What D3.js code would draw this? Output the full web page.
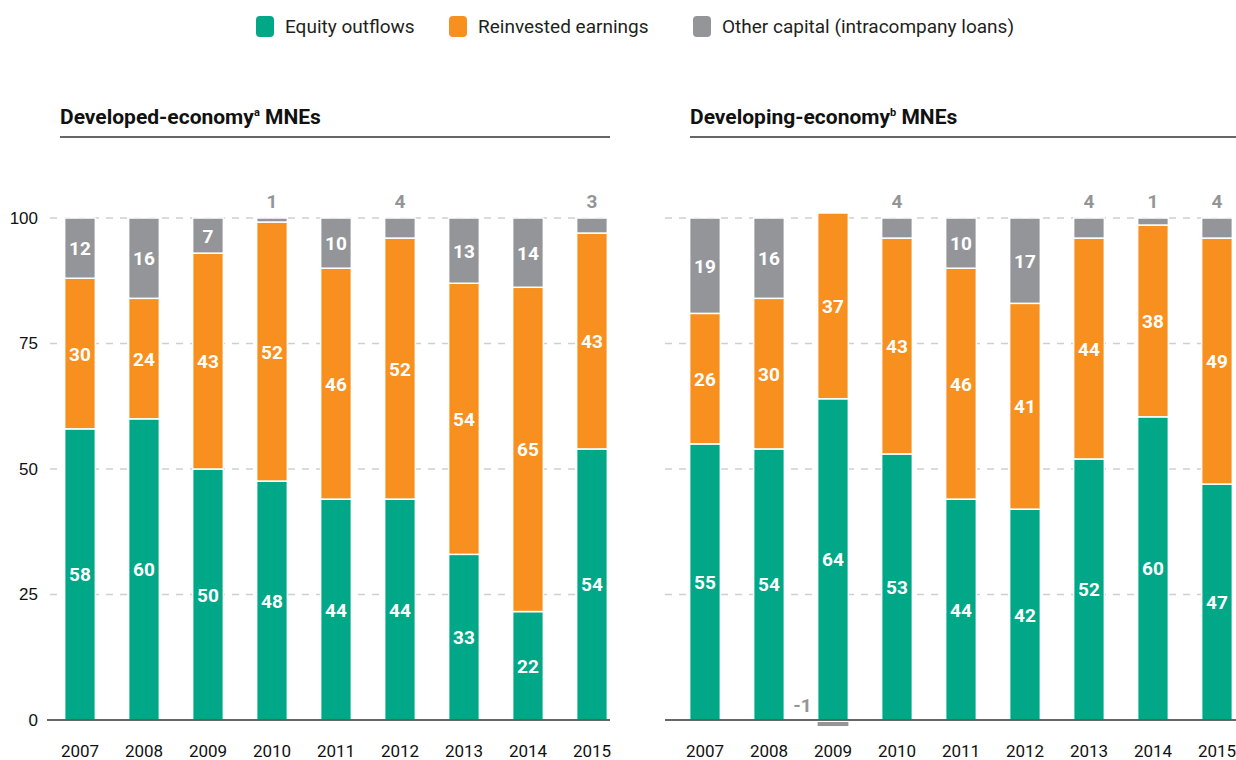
<!DOCTYPE html>
<html>
<head>
<meta charset="utf-8">
<script src="https://cdn.jsdelivr.net/npm/d3@7"></script>
<style>
  body { margin: 0; background: #fff; }
  svg { font-family: "Roboto", "Liberation Sans", sans-serif; }
</style>
</head>
<body>
<svg id="chart" width="1236" height="760"></svg>
<script>
(function() {

  const years = ["2007", "2008", "2009", "2010", "2011", "2012", "2013", "2014", "2015"]
  const seriesNames = ["Equity outflows", "Reinvested earnings", "Other capital (intracompany loans)"]
  const colors = ["#00a887", "#f7901e", "#939598"]
  const yTicks = [0, 25, 50, 75, 100]

  // developed-economy MNEs (shares, %)
  const devEquity = [58, 60, 50, 47.6, 44, 44, 33, 21.6, 54]
  const devReinvested = [30, 24, 43, 51.6, 46, 52, 54, 64.6, 43]
  const devOther = [12, 16, 7, 0.8, 10, 4, 13, 13.8, 3]

  // developing-economy MNEs (shares, %)
  const dvgEquity = [55, 54, 64, 53, 44, 42, 52, 60.4, 47]
  const dvgReinvested = [26, 30, 37, 43, 46, 41, 44, 38.2, 49]
  const dvgOther = [19, 16, -1, 4, 10, 17, 4, 1.4, 4]

  // plain hyphen for negatives, like the original
  const fmt = v => String(Math.round(v))
  const svg = d3.select("#chart")

  const y = d3.scaleLinear().domain([0, 100]).range([720, 218])

  // legend
  const legendX = [256, 449, 693]
  const legend = svg.append("g")
  seriesNames.forEach((name, i) => {
    legend.append("rect")
      .attr("x", legendX[i]).attr("y", 16)
      .attr("width", 18).attr("height", 21)
      .attr("rx", 4)
      .attr("fill", colors[i])
    legend.append("text")
      .attr("x", legendX[i] + 29).attr("y", 33)
      .attr("font-size", 19)
      .attr("fill", "#231f20")
      .text(name)
  })

  function drawPanel(opts) {
    const g = svg.append("g")

    // title
    const title = g.append("text")
      .attr("x", opts.titleX).attr("y", 124)
      .attr("font-size", 21).attr("font-weight", "bold")
      .attr("fill", "#111")
    title.append("tspan").text(opts.title)
    title.append("tspan").attr("font-size", 11).attr("dy", -8).text(opts.sup)
    title.append("tspan").attr("dy", 8).text(" MNEs")
    g.append("line")
      .attr("x1", opts.titleX).attr("x2", opts.lineEnd)
      .attr("y1", 137).attr("y2", 137)
      .attr("stroke", "#333").attr("stroke-width", 1.5)

    const x = d3.scaleBand()
      .domain(years)
      .range([opts.x0, opts.x0 + 9 * 64])
      .paddingInner(0.52)
      .paddingOuter(0.26)

    // gridlines
    g.append("g")
      .selectAll("line")
      .data(yTicks.filter(d => d > 0))
      .join("line")
        .attr("x1", opts.gridStart).attr("x2", opts.lineEnd)
        .attr("y1", d => y(d)).attr("y2", d => y(d))
        .attr("stroke", "#cfcfcf")
        .attr("stroke-width", 1.5)
        .attr("stroke-dasharray", "7,7")

    if (opts.showAxis) {
      const axis = g.append("g")
        .attr("transform", "translate(" + (opts.gridStart - 10) + ",0)")
        .call(d3.axisLeft(y).tickValues(yTicks).tickSize(0).tickPadding(2))
      axis.select(".domain").remove()
      axis.selectAll("text")
        .attr("font-size", 17)
        .attr("font-family", null)
        .attr("fill", "#111")
    }

    // stacked bars
    const rows = years.map((yr, i) => ({ year: yr, vals: [opts.equity[i], opts.reinvested[i], opts.other[i]] }))
    rows.forEach(row => {
      let base = 0
      row.vals.forEach((v, k) => {
        const bx = x(row.year), bw = x.bandwidth()
        const cx = bx + bw / 2
        if (v < 0) {
          g.append("rect")
            .attr("x", bx).attr("y", y(0) + 2)
            .attr("width", bw).attr("height", y(v) - y(0) - 1)
            .attr("fill", colors[k])
          g.append("text")
            .attr("x", bx - 6).attr("y", y(0) - 8)
            .attr("text-anchor", "end")
            .attr("font-size", 19).attr("font-weight", "bold")
            .attr("fill", "#939598")
            .text(fmt(v))
          return
        }
        const top = y(base + v), bottom = y(base)
        base += v
        g.append("rect")
          .attr("x", bx).attr("y", top)
          .attr("width", bw).attr("height", bottom - top)
          .attr("fill", colors[k])
          .attr("stroke", "#fff").attr("stroke-width", 1.5)

        if (v < 5) {
          g.append("text")
            .attr("x", cx).attr("y", y(100) - 10)
            .attr("text-anchor", "middle")
            .attr("font-size", 19).attr("font-weight", "bold")
            .attr("fill", "#939598")
            .text(fmt(v))
        } else {
          g.append("text")
            .attr("x", cx).attr("y", (top + bottom) / 2 + 7)
            .attr("text-anchor", "middle")
            .attr("font-size", 19).attr("font-weight", "bold")
            .attr("fill", "#fff")
            .text(fmt(v))
        }
      })
    })

    // baseline
    g.append("line")
      .attr("x1", opts.baseStart).attr("x2", opts.lineEnd)
      .attr("y1", y(0)).attr("y2", y(0))
      .attr("stroke", "#333").attr("stroke-width", 1.5)

    // x labels
    g.append("g")
      .selectAll("text")
      .data(years)
      .join("text")
        .attr("x", d => x(d) + x.bandwidth() / 2)
        .attr("y", 757)
        .attr("text-anchor", "middle")
        .attr("font-size", 17)
        .attr("fill", "#111")
        .text(d => d)
  }

  drawPanel({
    title: "Developed-economy", sup: "a",
    titleX: 60, lineEnd: 610, gridStart: 50, baseStart: 47,
    x0: 48, showAxis: true,
    equity: devEquity, reinvested: devReinvested, other: devOther
  })

  drawPanel({
    title: "Developing-economy", sup: "b",
    titleX: 690, lineEnd: 1236, gridStart: 665, baseStart: 665,
    x0: 673, showAxis: false,
    equity: dvgEquity, reinvested: dvgReinvested, other: dvgOther
  })

})();
</script>
</body>
</html>
